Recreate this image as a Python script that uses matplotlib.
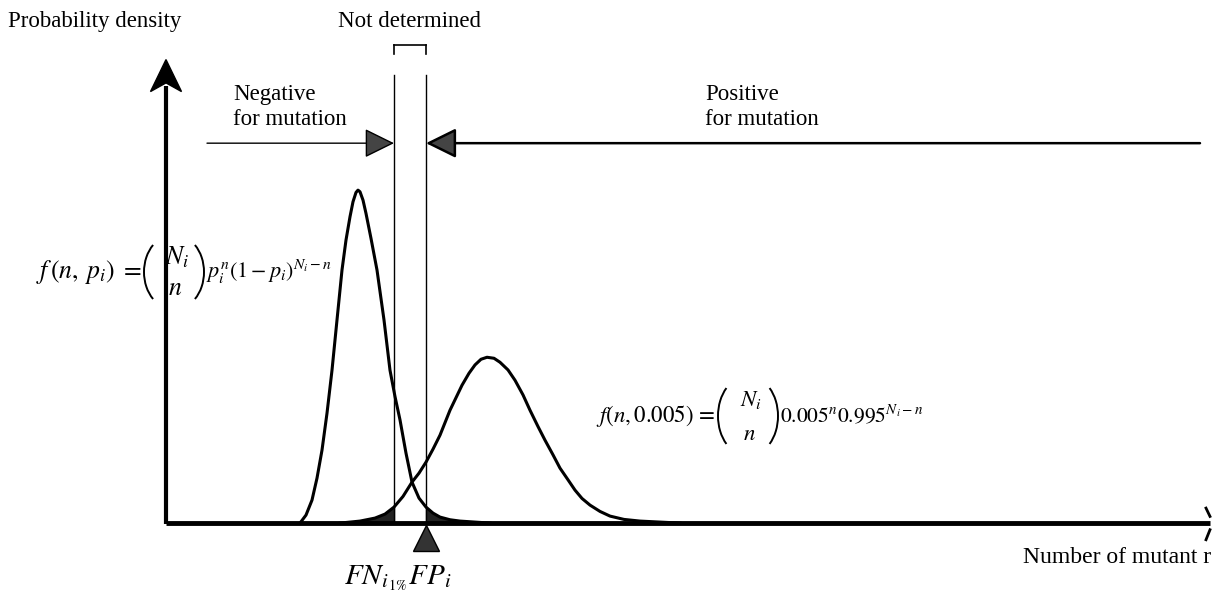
import numpy as np
import matplotlib
matplotlib.use("Agg")
import matplotlib.pyplot as plt
from matplotlib.patches import Arc, Polygon
from matplotlib.transforms import IdentityTransform

plt.rcParams['font.family'] = ['Liberation Serif', 'DejaVu Serif']
plt.rcParams['mathtext.fontset'] = 'stix'

# curves (n = number of mutant reads, arbitrary units; density scaled to left peak = 1)
neg_n = [13.4, 14.0, 14.6, 15.1, 15.6, 16.1, 16.6, 17.1, 17.6, 18.0, 18.4, 18.7, 19.0, 19.2, 19.4, 19.7,
         20.0, 20.5, 21.1, 21.8, 22.4, 22.9, 23.4, 24.0, 24.6, 25.3, 26.0, 26.7, 27.4, 28.4, 29.4, 32.4]
neg_d = [0.0, 0.024, 0.069, 0.135, 0.219, 0.33, 0.459, 0.61, 0.760, 0.85, 0.920, 0.965, 0.993, 1.0, 0.995, 0.97,
         0.93, 0.855, 0.760, 0.61, 0.459, 0.38, 0.310, 0.21, 0.123, 0.075, 0.048, 0.03, 0.018, 0.01, 0.006, 0.0]

pos_n = [17.4, 19.4, 20.9, 21.9, 22.8, 23.7, 24.6, 25.3, 26.0, 26.7, 27.4, 28.4, 29.6, 30.3, 30.9, 31.5, 32.1,
         32.8, 33.4, 34.2, 34.9, 35.7, 36.4, 37.2, 37.9, 38.7, 39.4, 40.2, 40.9, 41.6, 42.4, 43.4, 44.4, 45.8,
         47.4, 51.4]
pos_d = [0.0, 0.006, 0.015, 0.027, 0.048, 0.08, 0.123, 0.15, 0.183, 0.222, 0.264, 0.339, 0.414, 0.45, 0.475,
         0.492, 0.498, 0.495, 0.483, 0.46, 0.429, 0.385, 0.339, 0.29, 0.249, 0.205, 0.165, 0.13, 0.099,
         0.074, 0.054, 0.035, 0.021, 0.011, 0.006, 0.0]

fn_cut = 22.8   # FN_i 1%
fp_cut = 26.0   # FP_i

W, H = 1229, 596
fig = plt.figure(figsize=(W / 100, H / 100), dpi=100)
ax = fig.add_axes([0, 0, 1, 1])
ax.set_xlim(-16.6, 106.3)
ax.set_ylim(-0.219, 1.571)
ax.axis('off')

neg_n = np.array(neg_n); neg_d = np.array(neg_d)
pos_n = np.array(pos_n); pos_d = np.array(pos_d)

# shaded tails
ax.fill_between(neg_n, 0, neg_d, where=neg_n >= fp_cut, color='#222222', interpolate=True)
ax.fill_between(pos_n, 0, pos_d, where=pos_n <= fn_cut, color='#222222', interpolate=True)

ax.plot(neg_n, neg_d, color='black', lw=2.2, solid_joinstyle='round')
ax.plot(pos_n, pos_d, color='black', lw=2.2, solid_joinstyle='round')

# axes
ytop = 1.392
ax.plot([0, 0], [-0.004, ytop - 0.08], color='black', lw=3.0, solid_capstyle='butt')
ax.add_patch(Polygon([[0, ytop], [1.55, ytop - 0.096], [0, ytop - 0.07], [-1.55, ytop - 0.096]],
                     closed=True, color='black'))
ax.plot([0, 104.4], [0, 0], color='black', lw=3.5, solid_capstyle='butt')
ax.plot([104.0, 104.4], [0.045, 0.02], color='black', lw=2)
ax.plot([104.0, 104.4], [-0.05, -0.02], color='black', lw=2)

# not-determined window
for c in [fn_cut, fp_cut]:
    ax.plot([c, c], [0, 1.345], color='black', lw=1.0)
    ax.plot([c, c], [1.41, 1.435], color='black', lw=1.2)
ax.plot([fn_cut, fp_cut], [1.435, 1.435], color='black', lw=1.2)

# decision arrows
ax.annotate('', xy=(fn_cut, 1.141), xytext=(4.1, 1.141),
            arrowprops=dict(arrowstyle='-|>,head_length=0.75,head_width=0.37', lw=1.0,
                            fc='#444444', ec='black', mutation_scale=25, shrinkA=0, shrinkB=0))
ax.annotate('', xy=(fp_cut, 1.141), xytext=(103.4, 1.141),
            arrowprops=dict(arrowstyle='-|>,head_length=0.75,head_width=0.37', lw=1.8,
                            fc='#444444', ec='black', mutation_scale=25, shrinkA=0, shrinkB=0))

ax.plot([fp_cut], [-0.045], marker='^', ms=19, mfc='#333333', mec='black', mew=1)

# texts
fs = 16.5
ax.text(-15.8, 1.505, 'Probability density', fontsize=fs, va='center', ha='left')
ax.text((fn_cut + fp_cut) / 2, 1.505, 'Not determined', fontsize=fs, va='center', ha='center')
ax.text(6.7, 1.25, 'Negative\nfor mutation', fontsize=fs, va='center', ha='left', linespacing=1.25)
ax.text(53.9, 1.25, 'Positive\nfor mutation', fontsize=fs, va='center', ha='left', linespacing=1.25)
ax.text(fn_cut - 5.0, -0.165, r'$FN_{i_{\,1\%}}FP_i$', fontsize=21, va='center', ha='left')
ax.text(85.7, -0.103, 'Number of mutant r', fontsize=17, va='center', ha='left')

# binomial formulas, laid out in pixels from the top-left corner
pix = IdentityTransform()


def ftext(x, y, s, **kw):
    fig.text(x, H - y, s, transform=pix, **kw)


def paren(x0, yc, half_h, left=True):
    a, b = 28.0, half_h / 0.819
    if left:
        arc = Arc((x0 + a, H - yc), 2 * a, 2 * b, theta1=125, theta2=235, lw=1.4, color='black', transform=pix)
    else:
        arc = Arc((x0 - a, H - yc), 2 * a, 2 * b, theta1=-55, theta2=55, lw=1.4, color='black', transform=pix)
    fig.add_artist(arc)


def binom_formula(x_eq, base, lhs, rhs, fs_l, fs_r, half_h):
    yc = base - 6
    ftext(x_eq, base, lhs, fontsize=fs_l, ha='right', va='baseline')
    paren(x_eq + 2, yc, half_h, left=True)
    ftext(x_eq + 35, yc - half_h * 0.5, r'$N_i$', fontsize=fs_l, ha='center', va='center')
    ftext(x_eq + 33, yc + half_h * 0.58, r'$n$', fontsize=fs_l, ha='center', va='center')
    paren(x_eq + 62, yc, half_h, left=False)
    ftext(x_eq + 64, base, rhs, fontsize=fs_r, ha='left', va='baseline')


binom_formula(142, 278, r'$f\,(n,\;p_i)\;=$', r'$p_i^n(1-p_i)^{N_i-n}$', 18.5, 16, 30)
binom_formula(716, 422, r'$f(n,0.005)\,=$', r'$0.005^n0.995^{N_i-n}$', 16.5, 15.5, 32)

fig.savefig('out.png', dpi=100)
